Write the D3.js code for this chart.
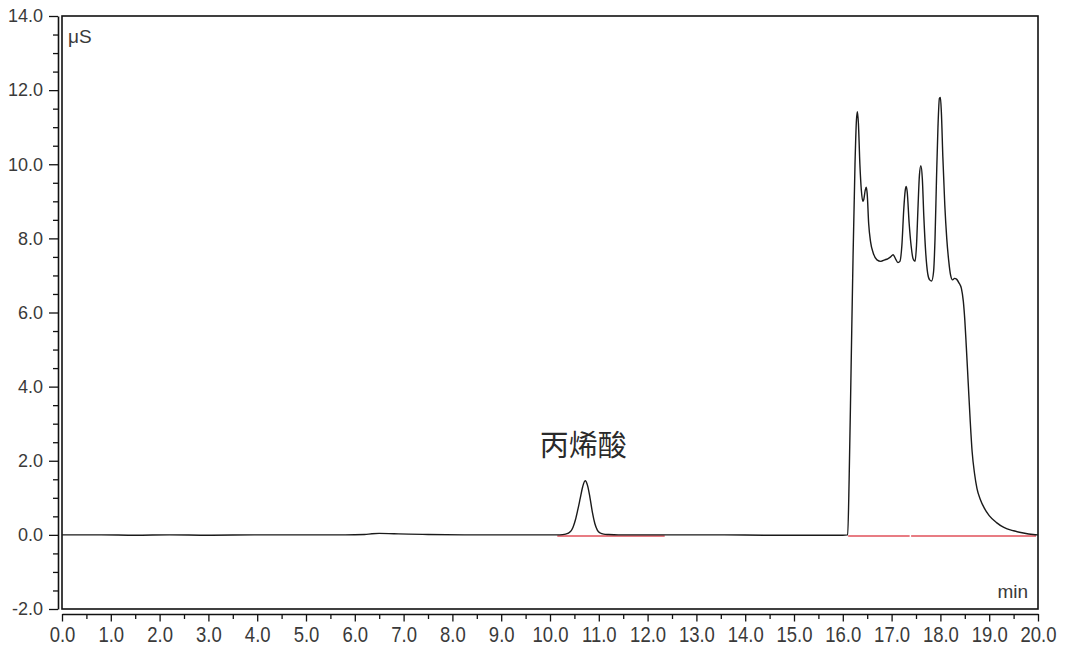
<!DOCTYPE html>
<html>
<head>
<meta charset="utf-8">
<script src="https://cdn.jsdelivr.net/npm/d3@7"></script>
<style>
  html, body { margin: 0; padding: 0; background: #fff; }
  svg { display: block; }
</style>
</head>
<body>
<svg id="chart" width="1067" height="657"></svg>
<script>
// ---- data ----
const xMajorTicks = [0,1,2,3,4,5,6,7,8,9,10,11,12,13,14,15,16,17,18,19,20];
const xMinorTicks = [0.5,1.5,2.5,3.5,4.5,5.5,6.5,7.5,8.5,9.5,10.5,11.5,12.5,13.5,14.5,15.5,16.5,17.5,18.5,19.5];
const yMajorTicks = [-2,0,2,4,6,8,10,12,14];
const yMinorTicks = [-1.5,-1,-0.5,0.5,1,1.5,2.5,3,3.5,4.5,5,5.5,6.5,7,7.5,8.5,9,9.5,10.5,11,11.5,12.5,13,13.5];
const yUnit = "μS";
const xUnit = "min";

// chromatogram trace: [time (min), signal (μS)]
const traceTime = [
  0, 0.8, 1.5, 2.2, 3.0, 4.0, 5.0, 5.8, 6.2, 6.35, 6.5, 6.8, 7.1, 7.5, 8.5, 9.5, 10.2,
  10.32, 10.42, 10.47, 10.52, 10.57, 10.62, 10.67, 10.72, 10.77, 10.82, 10.87, 10.92, 10.97, 11.03, 11.1, 11.2, 11.4,
  12.5, 13.5, 14.5, 15.5, 16.0, 16.1,
  16.13, 16.17, 16.21, 16.25, 16.28, 16.30, 16.32, 16.35, 16.38, 16.41, 16.43, 16.46, 16.48, 16.50, 16.53, 16.57, 16.62,
  16.70, 16.78, 16.86, 16.92, 16.98, 17.03, 17.08, 17.13, 17.17, 17.21, 17.25, 17.28, 17.30, 17.32, 17.36, 17.40, 17.44,
  17.48, 17.51, 17.54, 17.57, 17.60, 17.63, 17.66, 17.70, 17.74, 17.78, 17.82, 17.86, 17.89, 17.92, 17.95, 17.98, 18.00,
  18.02, 18.05, 18.09, 18.13, 18.17, 18.21, 18.25, 18.29, 18.33, 18.38, 18.43, 18.47, 18.50, 18.53, 18.57, 18.61, 18.65,
  18.70, 18.75, 18.82, 18.90, 19.00, 19.15, 19.30, 19.50, 19.70, 19.90, 20.0
];
const traceSignal = [
  0, 0, -0.01, 0, -0.01, 0, 0, 0, 0.01, 0.03, 0.04, 0.03, 0.02, 0.01, 0, 0, 0,
  0.02, 0.09, 0.2, 0.4, 0.68, 0.99, 1.3, 1.46, 1.33, 1.0, 0.6, 0.3, 0.13, 0.05, 0.02, 0.01, 0,
  0, 0, -0.01, -0.01, -0.01, 0,
  1.5, 4.5, 7.5, 10.0, 11.2, 11.42, 11.1, 10.0, 9.3, 9.0, 9.05, 9.3, 9.38, 9.2, 8.4, 7.9, 7.62,
  7.42, 7.38, 7.42, 7.45, 7.50, 7.56, 7.45, 7.35, 7.38, 7.8, 8.8, 9.3, 9.40, 9.25, 8.4, 7.8, 7.45,
  7.38, 7.8, 8.8, 9.7, 9.96, 9.6, 8.6, 7.6, 7.05, 6.88, 6.85, 7.1, 8.0, 9.6, 11.0, 11.78, 11.8,
  11.4, 10.2, 8.9, 8.0, 7.4, 7.0, 6.88, 6.92, 6.90, 6.80, 6.65, 6.3, 5.8, 5.1, 4.1, 3.1, 2.25,
  1.65, 1.25, 0.95, 0.72, 0.52, 0.33, 0.2, 0.11, 0.05, 0.01, 0
];

// red integration baselines: [start, end] in min, level in μS
const baselineStart = [10.15, 16.11, 17.40];
const baselineEnd   = [12.35, 17.37, 19.96];
const baselineLevel = -0.03;

// peak annotation
const peakNames = ["丙烯酸"];
const peakTimes = [10.72];
const peakLabelLevel = [2.13];

// ---- drawing ----
const svg = d3.select("#chart");
const x = d3.scaleLinear().domain([0, 20]).range([62, 1038]);
const y = d3.scaleLinear().domain([-2, 14]).range([609, 16]);

const axisColor = "#111";
const textColor = "#3a3a3a";
const tickFont = "'Liberation Sans', Arial, sans-serif";

// plot frame
svg.append("rect")
  .attr("x", x(0)).attr("y", y(14))
  .attr("width", x(20) - x(0)).attr("height", y(-2) - y(14))
  .attr("fill", "none").attr("stroke", axisColor).attr("stroke-width", 1.6);

// y axis (left, detached)
const yAxisG = svg.append("g").attr("transform", "translate(58,0)");
yAxisG.append("g")
  .call(d3.axisLeft(y).tickValues(yMinorTicks).tickSize(5).tickSizeOuter(0).tickFormat(""))
  .call(g => g.select(".domain").remove());
yAxisG.append("g")
  .call(d3.axisLeft(y).tickValues(yMajorTicks).tickSize(9).tickSizeOuter(0).tickPadding(6)
        .tickFormat(d => d.toFixed(1)))
  .call(g => g.selectAll("text").attr("font-size", 18).attr("font-family", tickFont).attr("fill", textColor));
yAxisG.selectAll("line").attr("stroke", axisColor).attr("stroke-width", 1.3);
yAxisG.selectAll(".domain").attr("stroke", axisColor).attr("stroke-width", 1.6);

// x axis (bottom, detached)
const xAxisG = svg.append("g").attr("transform", "translate(0,614)");
xAxisG.append("g")
  .call(d3.axisBottom(x).tickValues(xMinorTicks).tickSize(5).tickSizeOuter(0).tickFormat(""))
  .call(g => g.select(".domain").remove());
xAxisG.append("g")
  .call(d3.axisBottom(x).tickValues(xMajorTicks).tickSize(7.5).tickSizeOuter(0)
        .tickFormat(d => d.toFixed(1)))
  .call(g => g.selectAll("text")
      .attr("y", 0).attr("dy", null)
      .attr("transform", "translate(0,28) scale(1,1.2)")
      .attr("font-size", 18.5).attr("font-family", tickFont).attr("fill", textColor));
xAxisG.selectAll("line").attr("stroke", axisColor).attr("stroke-width", 1.3);
xAxisG.selectAll(".domain").attr("stroke", axisColor).attr("stroke-width", 1.6);

// unit labels
svg.append("text").attr("x", x(0) + 6).attr("y", 43)
  .attr("font-size", 19).attr("font-family", tickFont).attr("fill", textColor).text(yUnit);
svg.append("text").attr("x", x(20) - 10).attr("y", 598).attr("text-anchor", "end")
  .attr("font-size", 19).attr("font-family", tickFont).attr("fill", textColor).text(xUnit);

// red baselines
baselineStart.forEach((s, i) => {
  svg.append("line")
    .attr("x1", x(s)).attr("x2", x(baselineEnd[i]))
    .attr("y1", y(baselineLevel)).attr("y2", y(baselineLevel))
    .attr("stroke", "#e0505a").attr("stroke-width", 1.3);
});

// trace
const trace = traceTime.map((t, i) => [t, traceSignal[i]]);
svg.append("path")
  .datum(trace)
  .attr("fill", "none")
  .attr("stroke", "#1a1a1a")
  .attr("stroke-width", 1.4)
  .attr("stroke-linejoin", "round")
  .attr("d", d3.line().x(d => x(d[0])).y(d => y(d[1])).curve(d3.curveMonotoneX));

// peak labels
peakNames.forEach((n, i) => {
  svg.append("text")
    .attr("x", x(peakTimes[i]) - 2).attr("y", y(peakLabelLevel[i]))
    .attr("text-anchor", "middle")
    .attr("font-size", 29)
    .attr("font-family", "'Noto Sans CJK SC', sans-serif")
    .attr("fill", "#2a2a2a")
    .text(n);
});
</script>
</body>
</html>
